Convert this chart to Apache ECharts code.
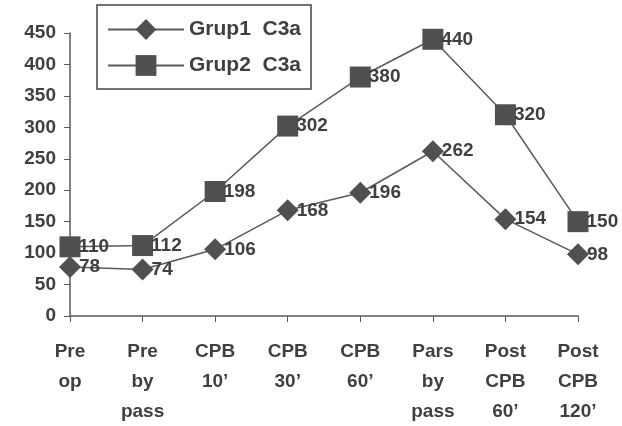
<!DOCTYPE html>
<html>
<head>
<meta charset="utf-8">
<script src="https://cdn.jsdelivr.net/npm/echarts@6/dist/echarts.min.js"></script>
<style>
    html, body { margin: 0; padding: 0; background: #fff; }
    #chart { width: 622px; height: 426px; }
</style>
</head>
<body>
<div id="chart"></div>
<script>
// 数据
const categories = ['Pre\nop', 'Pre\nby\npass', 'CPB\n10’', 'CPB\n30’', 'CPB\n60’', 'Pars\nby\npass', 'Post\nCPB\n60’', 'Post\nCPB\n120’'];
const grup1 = [78, 74, 106, 168, 196, 262, 154, 98];
const grup2 = [110, 112, 198, 302, 380, 440, 320, 150];
const seriesNames = ['Grup1  C3a', 'Grup2  C3a'];

const textColor = '#404040';
const lineColor = '#5a5a5a';
const font = 'Liberation Sans, Arial, sans-serif';

const chart = echarts.init(document.getElementById('chart'));

const labelStyle = {
    show: true,
    position: 'right',
    distance: -2,
    color: textColor,
    fontFamily: font,
    fontSize: 19,
    fontWeight: 'bold'
};

chart.setOption({
    animation: false,
    backgroundColor: '#fff',
    grid: { left: 70, right: 44, top: 33, bottom: 110, outerBoundsMode: 'none' },
    legend: {
        left: 97,
        top: 5,
        orient: 'vertical',
        itemWidth: 76,
        itemHeight: 26,
        itemGap: 15,
        padding: [14, 10, 13, 10],
        borderColor: '#444',
        borderWidth: 1.5,
        borderRadius: 0,
        textStyle: { color: textColor, fontFamily: font, fontSize: 21, fontWeight: 'bold' },
        data: seriesNames
    },
    xAxis: {
        type: 'category',
        boundaryGap: false,
        data: categories,
        axisLine: { lineStyle: { color: lineColor, width: 1.5 } },
        axisTick: { alignWithLabel: true, length: 6, lineStyle: { color: lineColor } },
        axisLabel: {
            margin: 21,
            color: textColor,
            fontFamily: font,
            fontSize: 19,
            fontWeight: 'bold',
            lineHeight: 30,
            interval: 0
        }
    },
    yAxis: {
        type: 'value',
        min: 0,
        max: 450,
        interval: 50,
        splitLine: { show: false },
        axisLine: { show: true, lineStyle: { color: lineColor, width: 1.5 } },
        axisTick: { show: true, length: 6, lineStyle: { color: lineColor } },
        axisLabel: { margin: 14, color: textColor, fontFamily: font, fontSize: 19, fontWeight: 'bold' }
    },
    series: [
        {
            name: seriesNames[0],
            type: 'line',
            data: grup1,
            symbol: 'diamond',
            symbolSize: 22,
            lineStyle: { color: lineColor, width: 1.5 },
            itemStyle: { color: '#505050' },
            label: labelStyle
        },
        {
            name: seriesNames[1],
            type: 'line',
            data: grup2,
            symbol: 'rect',
            symbolSize: 21,
            lineStyle: { color: lineColor, width: 1.5 },
            itemStyle: { color: '#505050' },
            label: labelStyle
        }
    ]
});
</script>
</body>
</html>
